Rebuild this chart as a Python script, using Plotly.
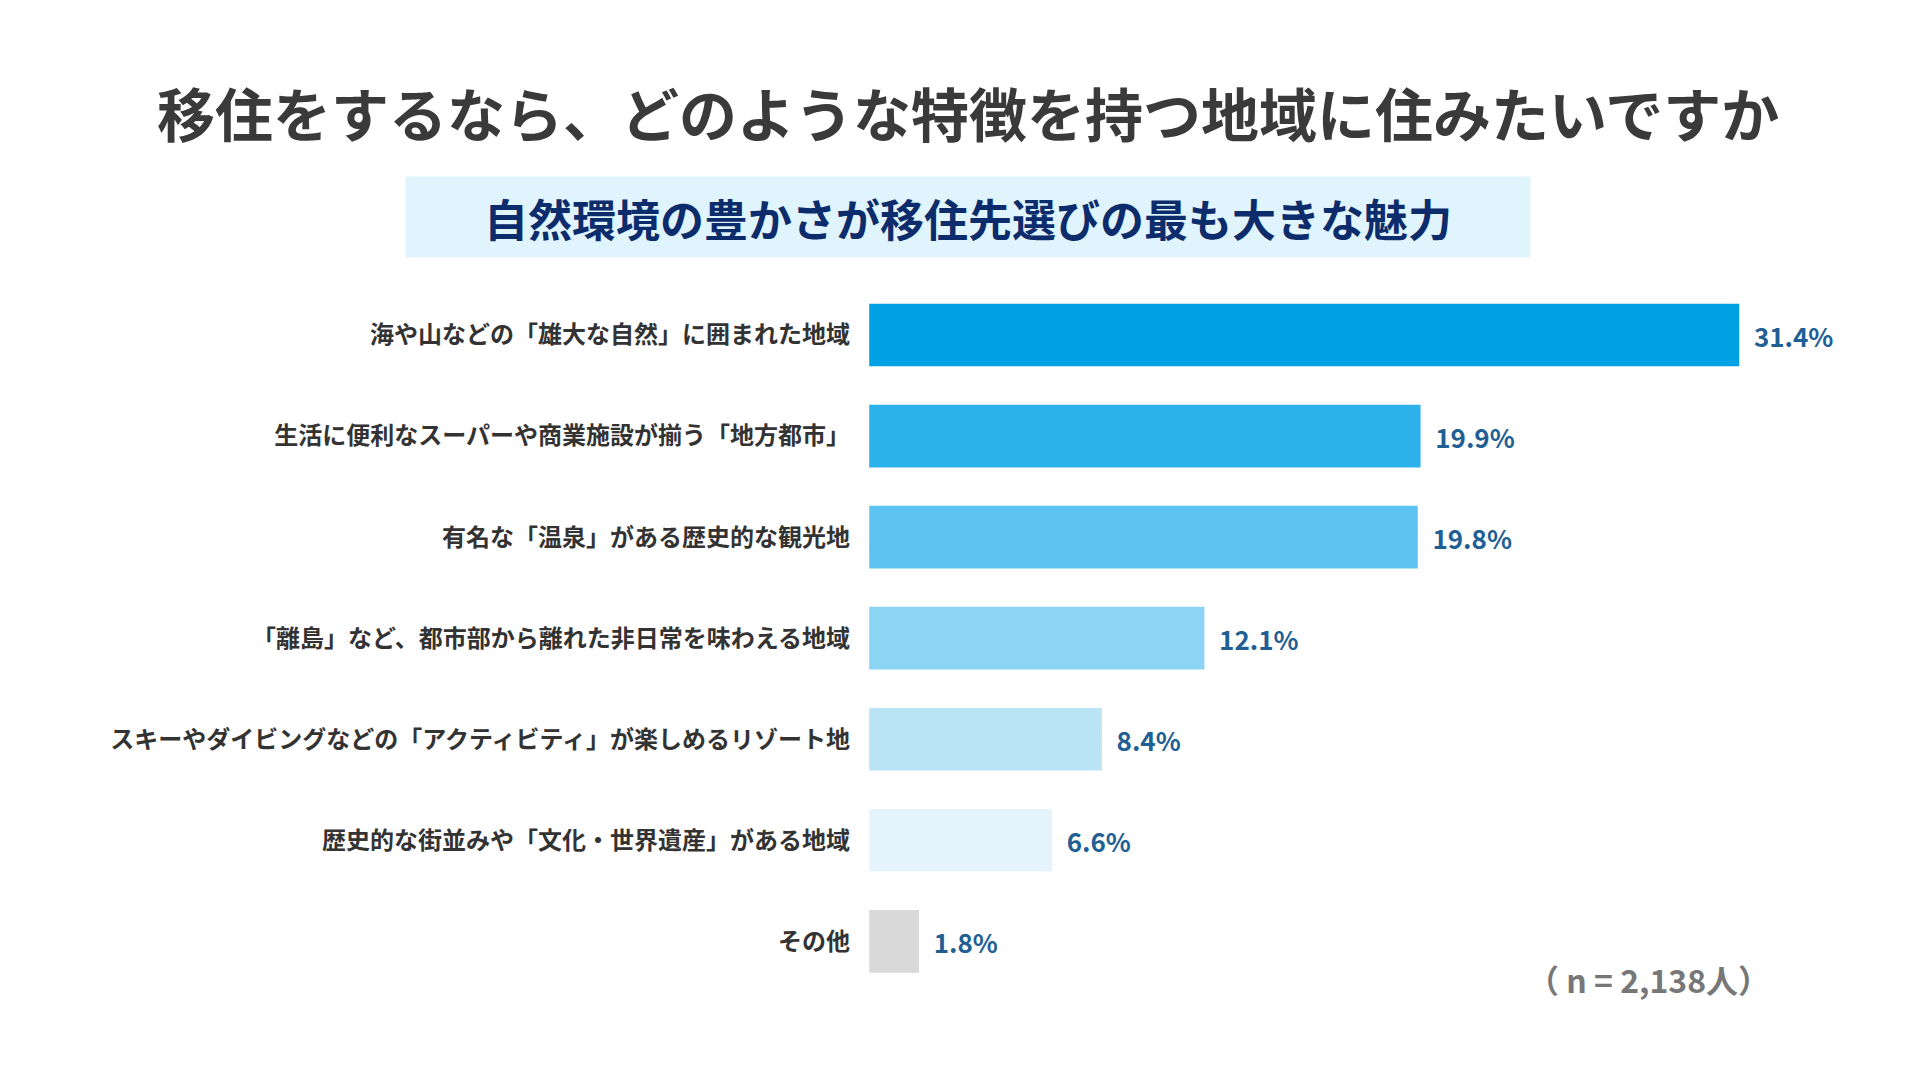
import plotly.graph_objects as go

categories = [
    "海や山などの「雄大な自然」に囲まれた地域",
    "生活に便利なスーパーや商業施設が揃う「地方都市」",
    "有名な「温泉」がある歴史的な観光地",
    "「離島」など、都市部から離れた非日常を味わえる地域",
    "スキーやダイビングなどの「アクティビティ」が楽しめるリゾート地",
    "歴史的な街並みや「文化・世界遺産」がある地域",
    "その他",
]
values = [31.4, 19.9, 19.8, 12.1, 8.4, 6.6, 1.8]
colors = ["#00a0e4", "#2db1ea", "#5dc3f1", "#8cd4f3", "#b9e4f6", "#e4f3fc", "#d9d9d9"]

font = "Noto Sans CJK JP"

fig = go.Figure(go.Bar(
    x=values,
    y=categories,
    orientation="h",
    marker=dict(color=colors, line=dict(width=0)),
    width=0.62,
    text=[f"&nbsp;&nbsp;<b>{v:.1f}%</b>" for v in values],
    textposition="outside",
    textfont=dict(color="#1f5f94", size=26, family=font),
    cliponaxis=False,
    hoverinfo="skip",
))

fig.update_yaxes(
    autorange="reversed",
    tickvals=categories,
    ticktext=[f"<b>{c}</b>" for c in categories],
    tickfont=dict(size=24, color="#333333", family=font),
    ticklabelstandoff=18,
    showgrid=False, zeroline=False, showline=False,
    domain=[0.089, 0.744],
)
fig.update_xaxes(
    range=[0, 37], domain=[0.4485, 0.9825],
    showgrid=False, zeroline=False, showline=False, showticklabels=False,
)

# subtitle band
fig.add_shape(type="rect", xref="paper", yref="paper",
              x0=0.207, x1=0.793, y0=0.769, y1=0.844,
              fillcolor="#e0f4fd", line=dict(width=0), layer="below")

fig.add_annotation(text="<b>移住をするなら、どのような特徴を持つ地域に住みたいですか</b>",
                   xref="paper", yref="paper", x=0.5, y=0.904, yanchor="middle",
                   showarrow=False, font=dict(size=58, color="#3a3a3a", family=font))
fig.add_annotation(text="<b>自然環境の豊かさが移住先選びの最も大きな魅力</b>",
                   xref="paper", yref="paper", x=0.5, y=0.806, yanchor="middle",
                   showarrow=False, font=dict(size=44, color="#0d2c6c", family=font))
fig.add_annotation(text="<b>（ n = 2,138人）</b>",
                   xref="paper", yref="paper", x=0.919, y=0.101, xanchor="right",
                   yanchor="middle", showarrow=False,
                   font=dict(size=32, color="#777777", family=font))

fig.update_layout(
    width=1920, height=1080,
    margin=dict(l=0, r=0, t=0, b=0),
    paper_bgcolor="white", plot_bgcolor="white",
    showlegend=False,
    font=dict(family=font),
)

fig.write_html("out.html")
